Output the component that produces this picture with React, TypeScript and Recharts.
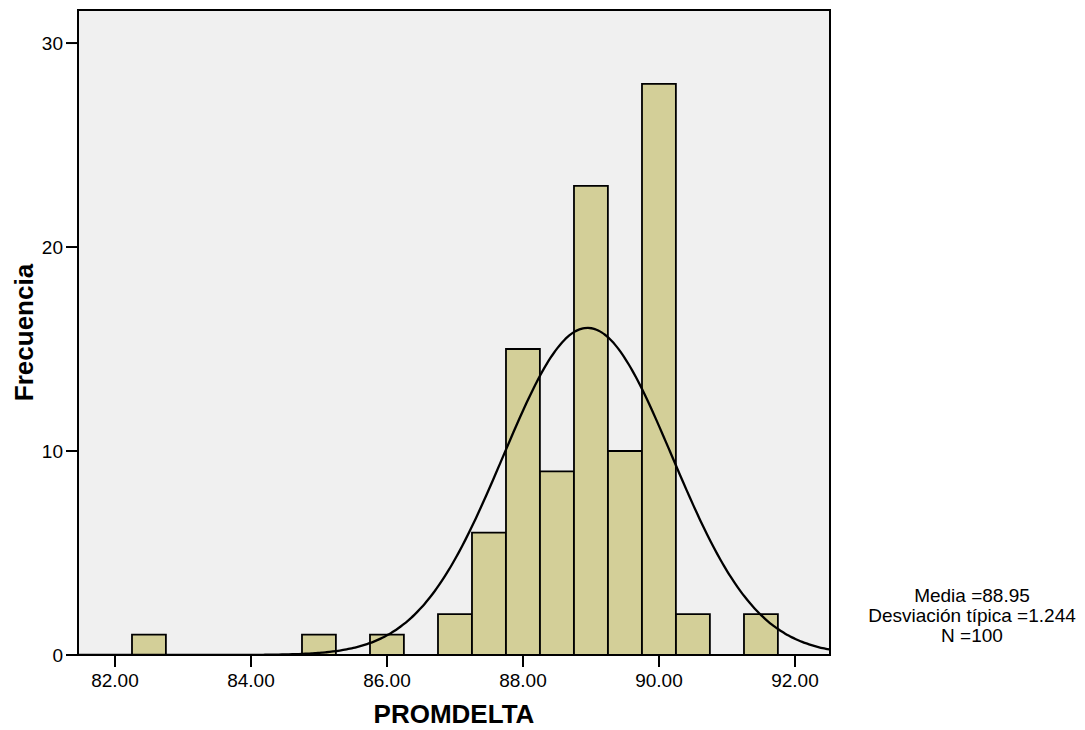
import React from "react";
import {
  ComposedChart,
  Bar,
  Line,
  XAxis,
  YAxis,
  CartesianGrid,
  ReferenceArea,
} from "recharts";

// Histogram bins (bin centres, width 0.5) and frequencies
const BIN_CENTERS = [82.5, 85.0, 86.0, 87.0, 87.5, 88.0, 88.5, 89.0, 89.5, 90.0, 90.5, 91.5];
const COUNTS = [1, 1, 1, 2, 6, 15, 9, 23, 10, 28, 2, 2];
const BIN_WIDTH = 0.5;

// Axis ticks
const X_TICKS = [82, 84, 86, 88, 90, 92];
const Y_TICKS = [0, 10, 20, 30];

// Summary statistics shown in the side note
const MEAN = 88.95;
const STD_DEV = 1.244;
const N_CASES = 100;

const X_MIN = 81.456;
const X_MAX = 92.515;
const Y_MAX = 31.62;

const FONT = "Arial, 'Liberation Sans', Helvetica, sans-serif";

const bins = BIN_CENTERS.map((x, i) => ({ x, count: COUNTS[i] }));

// Fitted normal curve scaled to counts per bin
const normalCurve: { x: number; y: number }[] = [];
for (let x = X_MIN; x <= X_MAX + 1e-9; x += 0.05) {
  const z = (x - MEAN) / STD_DEV;
  const density = Math.exp(-0.5 * z * z) / (STD_DEV * Math.sqrt(2 * Math.PI));
  normalCurve.push({ x, y: N_CASES * BIN_WIDTH * density });
}

const tickStyle = { fill: "#000", fontSize: 19, fontFamily: FONT };

const YTitle = (props: any) => {
  const vb = props.viewBox || {};
  const cx = vb.x + 33;
  const cy = vb.y + vb.height / 2;
  return (
    <text
      x={cx}
      y={cy}
      transform={`rotate(-90, ${cx}, ${cy})`}
      textAnchor="middle"
      fontFamily={FONT}
      fontWeight="bold"
      fontSize={26}
      fill="#000"
    >
      Frecuencia
    </text>
  );
};

const XTitle = (props: any) => {
  const vb = props.viewBox || {};
  return (
    <text
      x={vb.x + vb.width / 2}
      y={vb.y + 68}
      textAnchor="middle"
      fontFamily={FONT}
      fontWeight="bold"
      fontSize={26}
      fill="#000"
    >
      PROMDELTA
    </text>
  );
};

export default function App() {
  return (
    <div style={{ position: "absolute", left: 0, top: 0, width: 1085, height: 730, background: "#fff" }}>
      <ComposedChart
        width={1085}
        height={730}
        data={bins}
        margin={{ top: 10, right: 255, bottom: 0, left: 0 }}
      >
        <CartesianGrid horizontal={false} vertical={false} fill="#F0F0F0" />
        <XAxis
          xAxisId="bins"
          type="number"
          dataKey="x"
          domain={[X_MIN, X_MAX]}
          allowDataOverflow
          ticks={X_TICKS}
          tickFormatter={(v: number) => v.toFixed(2)}
          height={75}
          tick={tickStyle}
          tickSize={12}
          tickMargin={7}
          tickLine={{ stroke: "#000", strokeWidth: 2 }}
          axisLine={{ stroke: "#000", strokeWidth: 2 }}
          label={{ content: XTitle }}
        />
        <XAxis
          xAxisId="curve"
          type="number"
          dataKey="x"
          domain={[X_MIN, X_MAX]}
          allowDataOverflow
          hide
        />
        <YAxis
          type="number"
          domain={[0, Y_MAX]}
          allowDataOverflow
          ticks={Y_TICKS}
          width={78}
          tick={tickStyle}
          tickSize={12}
          tickMargin={3}
          tickLine={{ stroke: "#000", strokeWidth: 2 }}
          axisLine={{ stroke: "#000", strokeWidth: 2 }}
          label={{ content: YTitle }}
        />
        <Bar
          xAxisId="bins"
          dataKey="count"
          barSize={33.9}
          fill="#D3CF98"
          stroke="#000"
          strokeWidth={1.8}
          isAnimationActive={false}
        />
        <Line
          xAxisId="curve"
          data={normalCurve}
          dataKey="y"
          type="monotone"
          dot={false}
          activeDot={false}
          stroke="#000"
          strokeWidth={2.3}
          isAnimationActive={false}
        />
        <ReferenceArea
          xAxisId="bins"
          x1={X_MIN}
          x2={X_MAX}
          y1={0}
          y2={Y_MAX}
          fill="none"
          stroke="#000"
          strokeWidth={2}
        />
      </ComposedChart>
      <div
        style={{
          position: "absolute",
          left: 822,
          width: 300,
          top: 586,
          textAlign: "center",
          fontFamily: FONT,
          fontSize: 19,
          lineHeight: "20px",
          color: "#000",
        }}
      >
        <div>Media ={MEAN.toFixed(2)}</div>
        <div>Desviación típica ={STD_DEV.toFixed(3)}</div>
        <div>N ={N_CASES}</div>
      </div>
    </div>
  );
}
